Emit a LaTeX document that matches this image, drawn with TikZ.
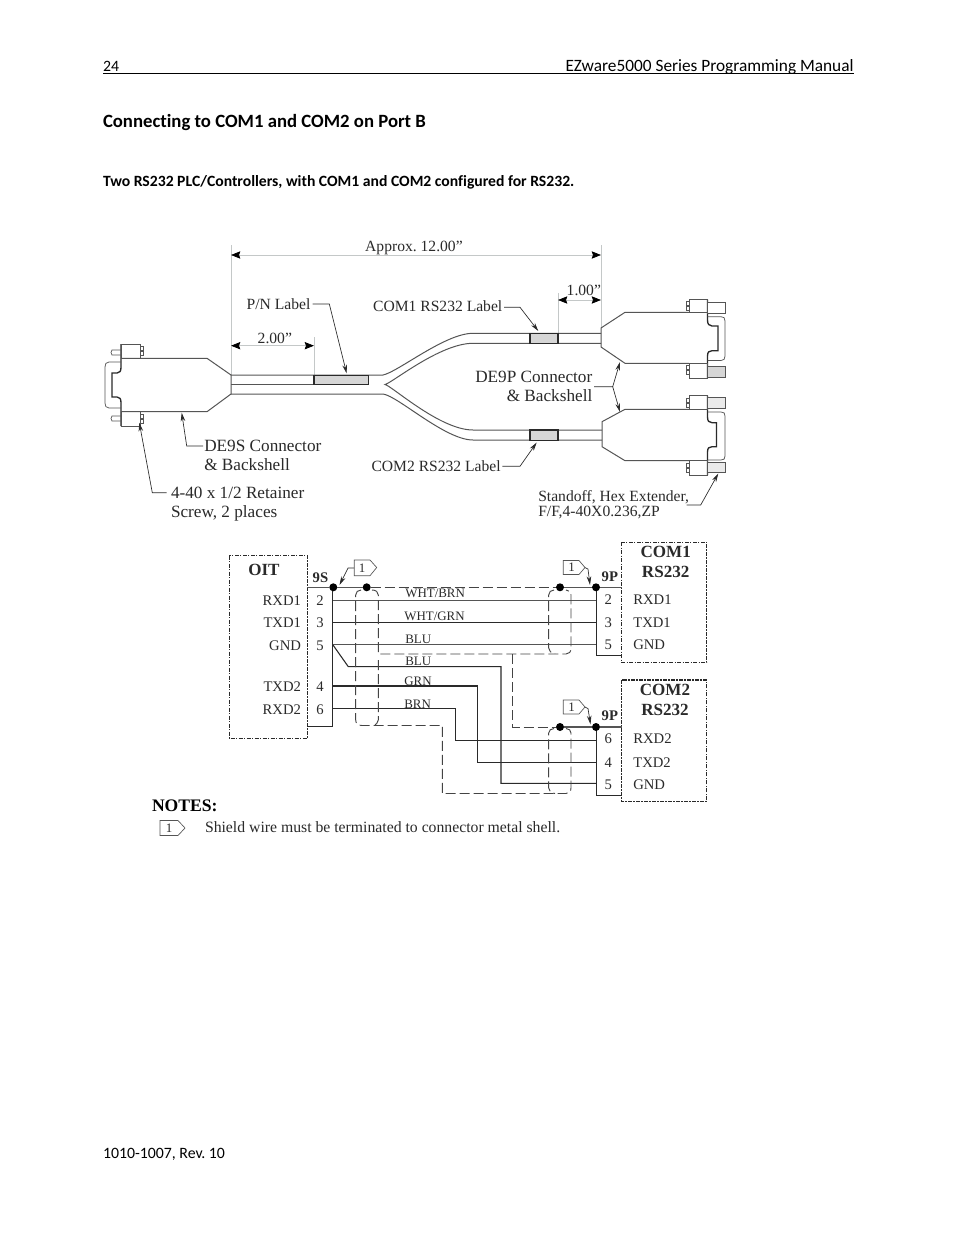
\documentclass[tikz,border=0pt]{standalone}
\usepackage{fontspec}
\setmainfont{Liberation Serif}
\newfontfamily\pagefont[Ligatures=NoCommon]{Carlito}
\usetikzlibrary{arrows.meta,calc}
\newcommand{\serifsize}[1]{\fontsize{#1}{#1}\selectfont}
\AtBeginDocument{\frenchspacing}
\definecolor{ink}{HTML}{2A2A2A}
\definecolor{midline}{HTML}{555555}
\definecolor{shieldline}{HTML}{444444}
\definecolor{paleline}{HTML}{C4C8C8}
\definecolor{labelfill}{HTML}{D6D6D6}
\tikzset{
  every node/.style={inner sep=0pt,outer sep=0pt,text=ink},
  ptxt/.style={anchor=base west,font=\pagefont\fontsize{12.97}{15}\selectfont,text=black},
  ptxts/.style={anchor=base west,font=\pagefont\fontsize{11.85}{15}\selectfont,text=black},
  ptxtb/.style={anchor=base west,font=\pagefont\bfseries\fontsize{14.05}{16}\selectfont,text=black},
  ptxtc/.style={anchor=base west,font=\pagefont\bfseries\fontsize{11.75}{14}\selectfont,text=black},
  big/.style={font=\serifsize{12.9}},
  mid/.style={font=\serifsize{11.7}},
  pin/.style={font=\serifsize{11}},
  wl/.style={font=\serifsize{9.7},anchor=base west},
  hd/.style={font=\bfseries\serifsize{12.8}},
  sm/.style={font=\bfseries\serifsize{11}},
  note/.style={font=\serifsize{11.8}},
  dimline/.style={paleline,line width=0.55pt},
  dimarrow/.style={draw=paleline,line width=0.55pt,{Stealth[length=7pt,width=5.5pt,inset=1pt,black]}-{Stealth[length=7pt,width=5.5pt,inset=1pt,black]}},
  leader/.style={draw=ink,line width=0.5pt,-{Stealth[length=6.5pt,width=3.4pt,ink]}},
  body/.style={draw=midline,line width=0.75pt},
  heavy/.style={draw=ink,line width=1pt},
  thinb/.style={draw=midline,line width=0.55pt},
  labelbox/.style={draw=ink,line width=0.8pt,fill=labelfill},
  wireg/.style={draw=midline,line width=1pt},
  wirek/.style={draw=ink,line width=0.8pt},
  wiredk/.style={draw=ink,line width=0.85pt},
  shield/.style={draw=shieldline,line width=0.7pt,dash pattern=on 7.5pt off 3pt},
  dd/.style={draw=ink,line width=0.8pt,dash pattern=on 3pt off 1pt on 1pt off 1pt},
  cbox/.style={draw=ink,line width=0.7pt},
  splice/.style={circle,fill=black,minimum size=6pt},
  flag/.style={draw=midline,line width=0.5pt,fill=white},
}
\begin{document}
\begin{tikzpicture}[x=0.75pt,y=-0.75pt]
\useasboundingbox (0,0) rectangle (954,1235);
\fill[white] (0,0) rectangle (954,1235);
% page furniture
\node[ptxts] (pgnum) at (103,71) {24};
\node[ptxt,anchor=base east] (pgtitle) at (853.5,71) {EZware5000 Series Programming Manual};
\coordinate (ruleL) at (103,73); \coordinate (ruleR) at (853.5,73);
\draw[black,line width=0.5pt] (ruleL) -- (ruleR);
\node[ptxtb] (heading) at (103,127) {Connecting to COM1 and COM2 on Port B};
\node[ptxtc] (subheading) at (103,186) {Two RS232 PLC/Controllers, with COM1 and COM2 configured for RS232.};
\node[ptxts] (footer) at (103,1158) {1010-1007, Rev. 10};
% dimensions
\coordinate (dA) at (231,255); \coordinate (dB) at (601,255);
\coordinate (dC) at (231,345.7); \coordinate (dD) at (314,345.7);
\coordinate (dE) at (558,300); \coordinate (dF) at (601,300);
\draw[dimline] (231,245) -- (231,375) (601,245) -- (601,328) (314,337) -- (314,375) (558,293) -- (558,333);
\draw[dimarrow] (dA) -- (dB);
\draw[dimarrow] (dC) -- (dD);
\draw[dimarrow] (dE) -- (dF);
\node[mid,anchor=base east] (approx) at (462.7,251) {Approx. 12.00”};
\node[mid,anchor=base west] (twoin) at (257.7,343.3) {2.00”};
\node[mid,anchor=base west] (onein) at (566.7,295) {1.00”};
% cable
\draw[body] (231,375) -- (383,375) .. controls (398,372) and (445,333.3) .. (473,333.3) -- (601,333.3);
\draw[body] (231,384.5) -- (368,384.5);
\draw[body] (601,343.3) -- (473,343.3) .. controls (440,343.3) and (392,383) .. (385,384.5) .. controls (392,386) and (440,430) .. (473,430) -- (602,430);
\draw[body] (231,394) -- (383,394) .. controls (398,396) and (445,440) .. (473,440) -- (602,440);
\draw[labelbox] (314,375.3) rectangle (368.5,384.5);
\draw[labelbox] (530,333.3) rectangle (558,343.5);
\draw[labelbox] (530,430) rectangle (558,440.5);
% left connector
\draw[body] (121,358.3) -- (207,358.3) -- (231,375) -- (231,394) -- (207,411.7) -- (121,411.7);
\draw[heavy] (121,344) -- (121,367) .. controls (121,371) and (120,373) .. (117,373) -- (112,373) -- (112,397) -- (117,397) .. controls (120,397) and (121,399) .. (121,403) -- (121,426);
\draw[thinb] (121,362) -- (109,362) .. controls (106,362) and (105,364) .. (105,367) -- (105,403) .. controls (105,406) and (106,408) .. (109,408) -- (121,408);
\draw[body] (121,344) rectangle (140,358.3);
\draw[body] (121,411.7) rectangle (140,426);
\draw[thinb] (121,350) -- (112,350) -- (111,352.5) -- (112,355) -- (121,355);
\draw[thinb] (121,416) -- (112,416) -- (111,418.5) -- (112,421) -- (121,421);
\draw[thinb] (140,346.5) -- (143,346.5) -- (143,350.5) -- (140,350.5) (140,351.5) -- (143,351.5) -- (143,355.5) -- (140,355.5);
\draw[thinb] (140,414) -- (143,414) -- (143,418) -- (140,418) (140,419) -- (143,419) -- (143,423) -- (140,423);
% right connector 1
\draw[body] (689,312.3) -- (625,312.3) -- (601,328) -- (601,347) -- (625,363.3) -- (689,363.3);
\draw[heavy] (707.5,299.5) -- (707.5,320) .. controls (707.5,324) and (709,326) .. (712,326) -- (718,326) -- (718,350.7) -- (712,350.7) .. controls (709,350.7) and (707.5,352) .. (707.5,356) -- (707.5,378);
\draw[thinb] (707.5,316.7) -- (721,316.7) .. controls (724,316.7) and (725,318) .. (725,321) -- (725,356) .. controls (725,359) and (724,360.5) .. (721,360.5) -- (707.5,360.5);
\draw[body] (689,299.5) rectangle (707.5,312.3);
\draw[body] (689,363.3) rectangle (707.5,378);
\draw[thinb,fill=white] (707.5,302) rectangle (725,313);
\draw[thinb,fill=labelfill] (707.5,366) rectangle (725,377);
\draw[thinb] (689,301.5) -- (686,301.5) -- (686,305.5) -- (689,305.5) (689,306.5) -- (686,306.5) -- (686,310.5) -- (689,310.5);
\draw[thinb] (689,365.5) -- (686,365.5) -- (686,369.5) -- (689,369.5) (689,370.5) -- (686,370.5) -- (686,374.5) -- (689,374.5);
% right connector 2
\draw[body] (689,409.3) -- (625,409.3) -- (602,421.7) -- (602,446.7) -- (625,460.7) -- (689,460.7);
\draw[heavy] (707.5,395.7) -- (707.5,417) .. controls (707.5,421) and (709,422.7) .. (712,422.7) -- (716.5,422.7) -- (716.5,446.7) -- (712,446.7) .. controls (709,446.7) and (707.5,448) .. (707.5,452) -- (707.5,475);
\draw[thinb] (707.5,412) -- (721,412) .. controls (724,412) and (725,413) .. (725,416) -- (725,456) .. controls (725,459) and (724,460) .. (721,460) -- (707.5,460);
\draw[body] (689,395.7) rectangle (707.5,409.3);
\draw[body] (689,460.7) rectangle (707.5,475);
\draw[thinb,fill=labelfill!50] (707.5,397.7) rectangle (725,408);
\draw[thinb,fill=labelfill!50] (707.5,462) rectangle (725,472.7);
\draw[thinb] (689,398) -- (686,398) -- (686,402) -- (689,402) (689,403) -- (686,403) -- (686,407) -- (689,407);
\draw[thinb] (689,463) -- (686,463) -- (686,467) -- (689,467) (689,468) -- (686,468) -- (686,472) -- (689,472);
% mechanical labels
\node[mid,anchor=base west] (pnlabel) at (246.7,309.3) {P/N Label};
\node[mid,anchor=base east] (com1label) at (502.3,311) {COM1 RS232 Label};
\node[mid,anchor=base east] (com2label) at (500.7,471) {COM2 RS232 Label};
\node[big,anchor=base west] (de9s) at (204.3,451) {DE9S Connector};
\node[big,anchor=base west] (de9sb) at (204.3,470) {\&\ Backshell};
\node[big,anchor=base west] (retainer) at (171,498.3) {4-40 x 1/2 Retainer};
\node[big,anchor=base west] (retainerb) at (171,517.3) {Screw, 2 places};
\node[big,anchor=base east] (de9p) at (592.3,382.7) {DE9P Connector};
\node[big,anchor=base east] (de9pb) at (592.3,401.7) {\&\ Backshell};
\node[mid,anchor=base west] (standoff) at (538.3,501) {Standoff, Hex Extender,};
\node[mid,anchor=base west] (standoffb) at (538.3,516.7) {F/F,4-40X0.236,ZP};
% leaders
\coordinate (pnS) at (312.7,304); \coordinate (pnK) at (329.3,304); \coordinate (pnT) at (346.7,373.5);
\draw[leader] (pnS) -- (pnK) -- (pnT);
\coordinate (dsS) at (203,446); \coordinate (dsK) at (186.7,446); \coordinate (dsT) at (181.7,412.7);
\draw[leader] (dsS) -- (dsK) -- (dsT);
\coordinate (reS) at (166.7,492.7); \coordinate (reK) at (152.3,492.7); \coordinate (reT) at (139.3,422.7);
\draw[leader] (reS) -- (reK) -- (reT);
\coordinate (c1S) at (504,307.3); \coordinate (c1K) at (520,307.3); \coordinate (c1T) at (538.3,331);
\draw[leader] (c1S) -- (c1K) -- (c1T);
\coordinate (c2S) at (502.3,466.3); \coordinate (c2K) at (520,466.3); \coordinate (c2T) at (536.7,442.5);
\draw[leader] (c2S) -- (c2K) -- (c2T);
\coordinate (dpS) at (594,386.7); \coordinate (dpK) at (612.7,386.7); \coordinate (dpU) at (620,362); \coordinate (dpD) at (620,412);
\draw[leader] (dpS) -- (dpK) -- (dpU);
\draw[leader] (dpK) -- (dpD);
\coordinate (soS) at (686.7,505); \coordinate (soK) at (700.7,505); \coordinate (soT) at (718.3,473.5);
\draw[leader] (soS) -- (soK) -- (soT);
% schematic boxes
\draw[dd] (229.3,555.7) rectangle (307.3,738.3);
\draw[dd] (621.7,542.3) rectangle (706.7,662.7);
\draw[dd] (621.7,680) rectangle (706.7,801.7);
\draw[cbox] (332.7,587.3) -- (332.7,726.3) -- (307.3,726.3);
\draw[cbox] (596,587.3) -- (596,655) -- (621.7,655);
\draw[cbox] (596,727) -- (596,795) -- (621.7,795);
% shield splices
\node[splice] (s1) at (333.3,587.3) {};
\node[splice] (s2) at (366.7,587.3) {};
\node[splice] (s3) at (560,587.3) {};
\node[splice] (s4) at (596,587.3) {};
\node[splice] (s5) at (560,727) {};
\node[splice] (s6) at (596,727) {};
\coordinate (oitTop) at (307.3,587.3);
\coordinate (com1Top) at (621.7,587.3);
\coordinate (com2Top) at (621.7,727);
\draw[thinb,line width=0.8pt] (oitTop) -- (s1) -- (s2);
\draw[thinb,line width=0.8pt] (s3) -- (s4) -- (com1Top);
\draw[thinb,line width=0.8pt] (s5) -- (s6) -- (com2Top);
\draw[shield] (s2) -- (s3);
% wires
\coordinate (L2) at (333,600.7); \coordinate (R2) at (596,600.7);
\coordinate (L3) at (333,622.3); \coordinate (R3) at (596,622.3);
\coordinate (L5) at (333,644.3); \coordinate (R5) at (596,644.3);
\coordinate (L5b) at (333,645); \coordinate (Lb1) at (348.3,666.7); \coordinate (Lb2) at (501,666.7); \coordinate (Lb3) at (501,783.3); \coordinate (R5b) at (596,783.3);
\coordinate (L4) at (333,686); \coordinate (Lg1) at (477.7,686); \coordinate (Lg2) at (477.7,762.3); \coordinate (R4) at (596,762.3);
\coordinate (L6) at (333,708.3); \coordinate (Lh1) at (455.7,708.3); \coordinate (Lh2) at (455.7,740.7); \coordinate (R6) at (596,740.7);
\draw[wireg] (L2) -- (R2);
\draw[wirek] (L3) -- (R3);
\draw[wireg] (L5) -- (R5);
\draw[wirek] (L5b) -- (Lb1) -- (Lb2) -- (Lb3) -- (R5b);
\draw[wiredk] (L4) -- (Lg1) -- (Lg2) -- (R4);
\draw[wiredk] (L6) -- (Lh1) -- (Lh2) -- (R6);
% shields
\draw[shield] (361,590) .. controls (358,590) and (355.7,592) .. (355.7,595) -- (355.7,720) .. controls (355.7,723.5) and (358,725.5) .. (362,725.5) -- (442.3,725.5) -- (442.3,793.5) -- (566,793.5) .. controls (569,793.5) and (571,791.5) .. (571,788) -- (571,733) .. controls (571,730.5) and (569,728.5) .. (566,728.5);
\draw[shield] (372,590) .. controls (376,590) and (378.3,592) .. (378.3,595) -- (378.3,654) -- (566,654) .. controls (569,654) and (571,652) .. (571,648) -- (571,595) .. controls (571,592) and (569,590) .. (566,590);
\draw[shield] (378.3,660) -- (378.3,720) .. controls (378.3,723) and (376,725) .. (372,725.5);
\draw[shield] (554,590) .. controls (551,590) and (548.7,592) .. (548.7,595) -- (548.7,648) .. controls (548.7,651) and (551,653) .. (555,653.5);
\draw[shield] (554,728.5) .. controls (551,728.5) and (548.7,730.5) .. (548.7,733) -- (548.7,788) .. controls (548.7,791) and (551,793) .. (555,793.5);
\draw[shield] (512.7,654) -- (512.7,727) -- (s5);
% flags
\coordinate (f1b) at (354.3,568); \coordinate (f1k) at (348,568); \coordinate (f1tip) at (339.5,585);
\draw[leader] (f1b) -- (f1k) -- (f1tip);
\draw[flag] (354.3,560) -- (370,560) -- (376.7,567.5) -- (370,575.7) -- (354.3,575.7) -- cycle;
\node[font=\serifsize{9.7}] (f1t) at (362,568) {1};
\coordinate (f2b) at (585,567.5); \coordinate (f2k) at (588,569); \coordinate (f2tip) at (590,585);
\draw[leader] (f2b) -- (f2k) -- (f2tip);
\draw[flag] (563.3,560.5) -- (579,560.5) -- (585,567.5) -- (579,574.5) -- (563.3,574.5) -- cycle;
\node[font=\serifsize{9.7}] (f2t) at (571.5,567.5) {1};
\coordinate (f3b) at (585,707); \coordinate (f3k) at (588,708.5); \coordinate (f3tip) at (590.5,724.3);
\draw[leader] (f3b) -- (f3k) -- (f3tip);
\draw[flag] (563.3,700) -- (579,700) -- (585,707) -- (579,714) -- (563.3,714) -- cycle;
\node[font=\serifsize{9.7}] (f3t) at (571.5,707) {1};
% schematic text
\node[hd,anchor=base west] (oit) at (248.3,575) {OIT};
\node[sm,anchor=base west] (nineS) at (312.7,582.3) {9S};
\node[sm,anchor=base west] (nineP) at (601.7,581.7) {9P};
\node[sm,anchor=base west] (ninePb) at (601.7,720) {9P};
\node[hd,anchor=base] (com1a) at (665.7,557.7) {COM1};
\node[hd,anchor=base] (com1b) at (665.7,577.3) {RS232};
\node[hd,anchor=base] (com2a) at (665,695.7) {COM2};
\node[hd,anchor=base] (com2b) at (665,715) {RS232};
\foreach \nm/\t/\y in {a/RXD1/605,b/TXD1/627.7,c/GND/650,d/TXD2/691.7,e/RXD2/714}
  \node[pin,anchor=base east] (oit\nm) at (301,\y) {\t};
\foreach \nm/\t/\y in {a/2/605,b/3/627.7,c/5/650,d/4/691.7,e/6/714}
  \node[pin,anchor=base] (lpin\nm) at (320,\y) {\t};
\foreach \nm/\t/\y in {a/RXD1/604.3,b/TXD1/627.7,c/GND/649.7,d/RXD2/743.3,e/TXD2/767.3,f/GND/789.3}
  \node[pin,anchor=base west] (rsig\nm) at (633.3,\y) {\t};
\foreach \nm/\t/\y in {a/2/604.3,b/3/627.7,c/5/649.7,d/6/743.3,e/4/767.3,f/5/789.3}
  \node[pin,anchor=base] (rpin\nm) at (608.3,\y) {\t};
\node[wl] (w1) at (405.3,597.7) {WHT/BRN};
\node[wl] (w2) at (404.3,620) {WHT/GRN};
\node[wl] (w3) at (405.3,643) {BLU};
\node[wl] (w4) at (405.3,665) {BLU};
\node[wl] (w5) at (404.3,685) {GRN};
\node[wl] (w6) at (404.3,708) {BRN};
% notes
\node[hd,anchor=base west,font=\bfseries\serifsize{13.2},text=black] (notes) at (152,811) {NOTES:};
\draw[flag] (160,820.5) -- (178,820.5) -- (185,828) -- (178,835.5) -- (160,835.5) -- cycle;
\node[font=\serifsize{9.7}] (f4t) at (169,828) {1};
\node[note,anchor=base west] (notetext) at (205,832) {Shield wire must be terminated to connector metal shell.};
\end{tikzpicture}
\end{document}
